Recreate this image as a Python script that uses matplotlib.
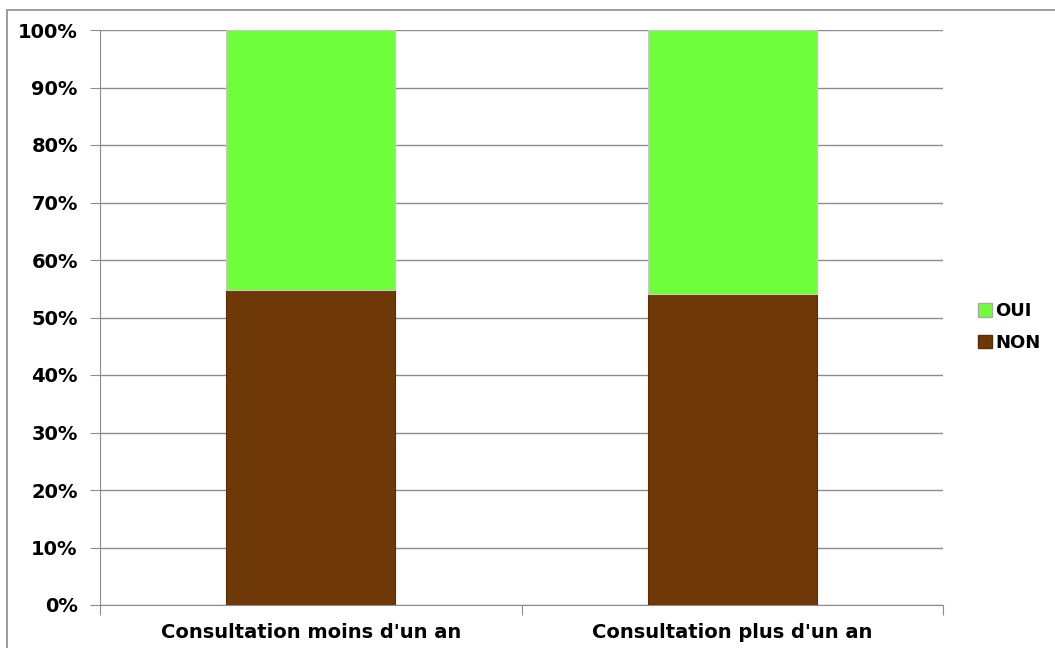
import matplotlib.pyplot as plt
from matplotlib.patches import Rectangle, Patch
from matplotlib.ticker import PercentFormatter, MultipleLocator

categories = ["Consultation moins d'un an", "Consultation plus d'un an"]
non = [54.8, 54.1]
oui = [45.2, 45.9]

plt.rcParams['font.family'] = ['DejaVu Sans']
plt.rcParams['font.weight'] = 'bold'

fig = plt.figure(figsize=(10.55, 6.48), dpi=100)
ax = fig.add_axes([100 / 1055, 1 - 605 / 648, 843 / 1055, 575 / 648])

# outer frame
fig.patches.append(Rectangle((7 / 1055, -0.05), 1.1, 1 - 10 / 648 + 0.05,
                             transform=fig.transFigure, fill=False,
                             edgecolor='#8c8c8c', linewidth=1.2))

x = range(len(categories))
ax.bar(x, non, width=0.4, color='#6f3807', edgecolor='#5a2d05', linewidth=0.8, label='NON', zorder=3)
ax.bar(x, oui, width=0.4, bottom=non, color='#6eff3a', edgecolor='#c8c8c8', linewidth=0.8, label='OUI', zorder=3)

ax.set_xlim(-0.5, 1.5)
ax.set_ylim(0, 100)
ax.yaxis.set_major_locator(MultipleLocator(10))
ax.yaxis.set_major_formatter(PercentFormatter(decimals=0))
ax.set_xticks([-0.5, 0.5, 1.5], minor=False)
ax.set_xticklabels([])
ax.set_xticks(list(x), minor=True)
ax.set_xticklabels(categories, minor=True)
ax.tick_params(axis='x', which='minor', length=0, pad=13, labelsize=14)
ax.tick_params(axis='x', which='major', length=7, direction='out', color='#8c8c8c')
ax.tick_params(axis='y', length=7, direction='out', color='#8c8c8c', labelsize=14, pad=9)
ax.grid(axis='y', color='#8c8c8c', linewidth=1, zorder=0)
for s in ['top', 'right']:
    ax.spines[s].set_visible(False)
for s in ['left', 'bottom']:
    ax.spines[s].set_color('#8c8c8c')

handles = [Patch(facecolor='#6eff3a', edgecolor='#aaaaaa', label='OUI'),
           Patch(facecolor='#6f3807', edgecolor='#5a2d05', label='NON')]
fig.legend(handles=handles, loc='center left', bbox_to_anchor=(962 / 1055, 1 - 327 / 648),
           frameon=False, fontsize=13, handlelength=0.75, handleheight=0.75,
           handletextpad=0.2, labelspacing=0.75)

fig.savefig('out.png', dpi=100)
